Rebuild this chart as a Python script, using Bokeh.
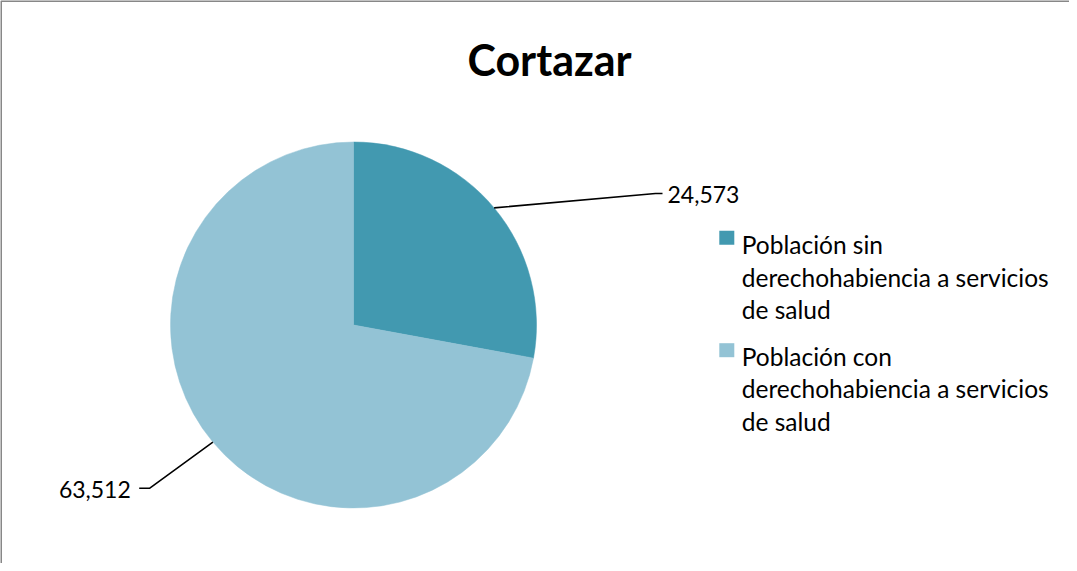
import math
from bokeh.plotting import figure
from bokeh.models import Range1d
from bokeh.core.properties import value
from bokeh.embed import file_html
from bokeh.resources import INLINE

title = "Cortazar"
categories = ["Población sin derechohabiencia a servicios de salud",
              "Población con derechohabiencia a servicios de salud"]
legend_lines = [["Población sin", "derechohabiencia a servicios", "de salud"],
                ["Población con", "derechohabiencia a servicios", "de salud"]]
values = [24573, 63512]
colors = ["#4299B0", "#93C3D5"]

W, H = 1069, 563
FONT = "Lato"

p = figure(width=W, height=H, output_backend="svg", toolbar_location=None,
           x_range=Range1d(0, W), y_range=Range1d(0, H), min_border=0)
p.axis.visible = False
p.grid.visible = False
p.outline_line_color = None
p.background_fill_color = "white"
p.border_fill_color = "white"

# chart border (left and top visible)
p.line(x=[0.5, 0.5, W], y=[0, H - 0.5, H - 0.5], line_color="#878787", line_width=2)

# pie
cx, cy, r = 353, 238.5, 183
total = sum(values)
cum = 0.0
starts, ends, mids = [], [], []
for v in values:
    a0 = math.pi / 2 - cum / total * 2 * math.pi
    cum += v
    a1 = math.pi / 2 - cum / total * 2 * math.pi
    starts.append(a0)
    ends.append(a1)
    mids.append((a0 + a1) / 2)

p.wedge(x=[cx] * len(values), y=[cy] * len(values), radius=r,
        start_angle=starts, end_angle=ends, direction="clock",
        fill_color=colors, line_color=colors, line_width=0.5)

# data labels with leader lines
elbows = [(655, 370, 662), (149.3, 75.3, 138.7)]
label_pos = [(667, 369.3, "left"), (130.3, 74.3, "right")]
for i, v in enumerate(values):
    ex, ey, endx = elbows[i]
    sx = cx + r * math.cos(mids[i])
    sy = cy + r * math.sin(mids[i])
    p.line(x=[sx, ex, endx], y=[sy, ey, ey], line_color="black", line_width=1.6)
    lx, ly, al = label_pos[i]
    p.text(x=[lx], y=[ly], text=[f"{v:,}"], text_font=value(FONT),
           text_font_size="23px", text_align=al, text_baseline="alphabetic",
           text_color="black")

# title
p.text(x=[549], y=[504.3], text=[title], text_font=value(FONT),
       text_font_size="43px", text_font_style="bold", text_align="center",
       text_baseline="alphabetic", text_color="black")

# legend
sq_y = [325.7, 213.3]
first_base = [318.7, 207]
for i in range(len(values)):
    p.rect(x=[726.3], y=[sq_y[i]], width=15, height=14, fill_color=colors[i],
           line_color=None)
    for j, ln in enumerate(legend_lines[i]):
        p.text(x=[741.3], y=[first_base[i] - j * 32.4], text=[ln],
               text_font=value(FONT), text_font_size="24.5px", text_align="left",
               text_baseline="alphabetic", text_color="black")

open("out.html", "w").write(file_html(p, INLINE))
